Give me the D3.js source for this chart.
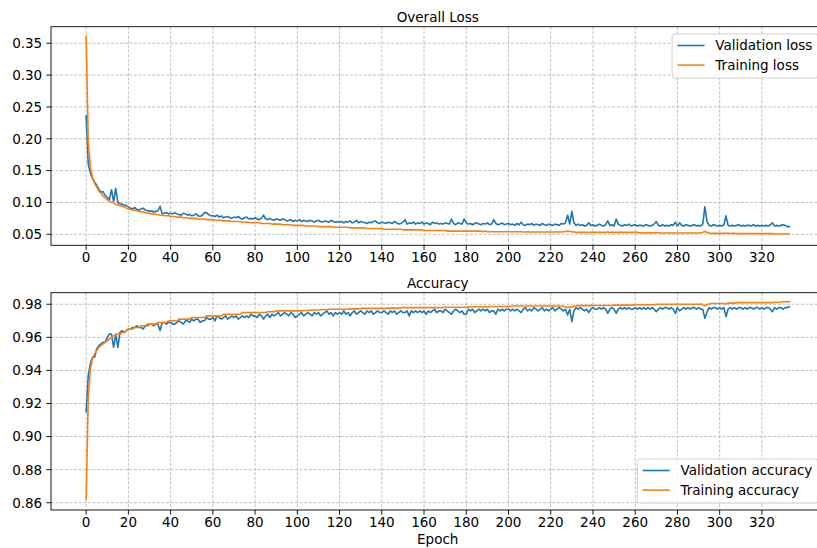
<!DOCTYPE html>
<html>
<head>
<meta charset="utf-8">
<script src="https://cdn.jsdelivr.net/npm/d3@7/dist/d3.min.js"></script>
<style>
  body { margin: 0; background: #fff; }
  text { font-family: "DejaVu Sans", sans-serif; font-size: 13.5px; fill: #000; }
</style>
</head>
<body>
<svg id="chart" width="817" height="548"></svg>
<script>
// validation loss per epoch (0..333)
const valLoss = [
  .236,.160,.146,.138,.132,.127,.121,.116,.117,.111,.108,.104,.120,.101,.122,.100,.098,.097,.096,.095,
  .093,.091,.090,.092,.089,.088,.090,.091,.088,.087,.086,.087,.085,.086,.087,.094,.082,.083,.084,.082,
  .083,.082,.084,.082,.081,.080,.083,.082,.080,.081,.079,.080,.082,.079,.078,.080,.084,.084,.081,.079,
  .079,.078,.080,.077,.079,.076,.077,.078,.076,.075,.077,.076,.078,.075,.074,.076,.077,.074,.075,.074,
  .076,.074,.073,.075,.080,.074,.073,.075,.073,.072,.074,.073,.072,.074,.073,.071,.072,.073,.070,.072,
  .071,.073,.070,.072,.071,.070,.072,.071,.069,.071,.072,.070,.069,.071,.070,.069,.072,.070,.069,.070,
  .069,.070,.068,.070,.069,.071,.068,.069,.072,.068,.070,.069,.068,.067,.069,.068,.070,.071,.068,.067,
  .069,.068,.067,.069,.068,.067,.070,.068,.066,.067,.069,.073,.066,.068,.067,.069,.066,.068,.067,.069,
  .066,.068,.067,.065,.069,.067,.068,.066,.067,.066,.068,.067,.066,.074,.067,.065,.068,.067,.066,.074,
  .068,.066,.067,.065,.067,.068,.066,.065,.067,.066,.068,.065,.066,.073,.067,.065,.066,.068,.065,.066,
  .067,.065,.066,.064,.067,.065,.069,.065,.064,.066,.065,.067,.064,.066,.065,.064,.067,.065,.064,.066,
  .065,.064,.066,.065,.064,.067,.066,.068,.080,.066,.086,.068,.064,.066,.064,.065,.063,.064,.068,.064,
  .065,.063,.064,.066,.064,.063,.065,.071,.064,.065,.063,.074,.066,.064,.063,.065,.064,.066,.063,.064,
  .065,.063,.064,.064,.063,.065,.064,.063,.064,.066,.070,.064,.063,.065,.063,.064,.063,.065,.064,.069,
  .063,.068,.064,.063,.065,.064,.063,.064,.065,.063,.064,.063,.066,.093,.070,.064,.063,.065,.064,.063,
  .064,.063,.065,.079,.064,.063,.064,.063,.064,.065,.063,.064,.063,.064,.064,.063,.065,.063,.064,.063,
  .064,.063,.064,.063,.065,.068,.063,.064,.063,.064,.065,.064,.062,.062
];

// training loss per epoch
const trainLoss = [
  .361,.195,.155,.140,.130,.124,.118,.114,.110,.107,.104,.102,.100,.099,.097,.096,.095,.094,.093,.091,
  .090,.089,.088,.088,.087,.086,.085,.085,.084,.083,.083,.082,.082,.081,.081,.080,.080,.079,.079,.079,
  .078,.078,.078,.077,.077,.077,.076,.076,.076,.075,.075,.075,.075,.074,.074,.074,.074,.073,.073,.073,
  .073,.072,.072,.072,.072,.071,.071,.071,.071,.070,.070,.070,.070,.070,.069,.069,.069,.069,.068,.068,
  .068,.068,.068,.067,.067,.067,.067,.067,.066,.066,.066,.066,.066,.065,.065,.065,.065,.065,.064,.064,
  .064,.064,.064,.064,.063,.063,.063,.063,.063,.063,.062,.062,.062,.062,.062,.062,.062,.061,.061,.061,
  .061,.061,.061,.061,.061,.060,.060,.060,.060,.060,.060,.060,.060,.059,.059,.059,.059,.059,.059,.059,
  .059,.058,.058,.058,.058,.058,.058,.058,.058,.058,.057,.057,.057,.057,.057,.057,.057,.057,.057,.057,
  .056,.056,.056,.056,.056,.056,.056,.056,.056,.056,.056,.055,.055,.055,.055,.055,.055,.055,.055,.055,
  .055,.055,.055,.055,.055,.055,.055,.055,.054,.055,.054,.054,.054,.054,.054,.054,.054,.054,.054,.054,
  .054,.054,.054,.054,.054,.054,.054,.0535,.0535,.054,.0535,.0535,.0535,.0535,.0535,.0535,.0535,.0535,.0535,.0535,
  .0535,.0535,.0535,.0535,.0535,.0535,.054,.0545,.055,.0545,.054,.0535,.053,.053,.053,.053,.053,.053,.053,.053,
  .053,.053,.053,.053,.053,.053,.053,.0535,.053,.053,.053,.053,.053,.053,.053,.053,.053,.053,.053,.053,
  .053,.053,.0525,.0525,.0525,.0525,.0525,.0525,.0525,.0525,.0525,.0525,.052,.052,.052,.052,.052,.052,.052,.052,
  .052,.052,.052,.052,.052,.052,.052,.052,.052,.052,.052,.0525,.053,.0545,.053,.052,.0515,.0515,.0515,.0515,
  .0515,.0515,.0515,.052,.0515,.0515,.0515,.0515,.051,.051,.051,.051,.051,.051,.051,.051,.051,.051,.051,.051,
  .051,.051,.051,.051,.051,.051,.0505,.0505,.0505,.0505,.0505,.0505,.0505,.0505
];

// validation accuracy per epoch
const valAcc = [
  .915,.937,.944,.948,.948,.953,.955,.956,.957,.957,.960,.962,.962,.954,.962,.954,.963,.964,.963,.964,
  .965,.965,.966,.966,.967,.966,.966,.965,.967,.967,.968,.968,.967,.968,.968,.964,.969,.969,.968,.969,
  .969,.968,.968,.969,.970,.969,.968,.970,.970,.969,.971,.970,.971,.971,.969,.970,.970,.972,.971,.971,
  .972,.970,.973,.972,.971,.972,.973,.971,.972,.973,.972,.973,.971,.972,.973,.972,.973,.972,.974,.973,
  .973,.972,.974,.973,.971,.973,.974,.972,.974,.973,.974,.975,.973,.974,.975,.974,.973,.975,.974,.972,
  .973,.974,.975,.973,.974,.975,.974,.973,.975,.974,.975,.973,.974,.975,.976,.974,.975,.973,.975,.974,
  .975,.974,.976,.974,.975,.973,.975,.976,.974,.975,.976,.975,.974,.976,.975,.976,.974,.975,.976,.975,
  .975,.976,.975,.974,.976,.975,.976,.974,.975,.976,.975,.975,.976,.973,.976,.975,.976,.975,.976,.975,
  .976,.974,.976,.975,.976,.977,.975,.976,.976,.975,.977,.976,.975,.974,.976,.977,.976,.975,.976,.974,
  .974,.977,.976,.977,.975,.976,.977,.976,.977,.976,.977,.975,.976,.976,.974,.977,.976,.977,.976,.977,
  .977,.976,.977,.976,.977,.976,.975,.977,.978,.976,.977,.976,.978,.977,.976,.977,.978,.976,.977,.976,
  .977,.978,.976,.977,.978,.977,.976,.977,.9735,.977,.9695,.976,.978,.977,.978,.977,.976,.977,.975,.977,
  .978,.977,.977,.978,.977,.978,.977,.9745,.977,.978,.977,.9745,.977,.978,.977,.978,.977,.978,.977,.977,
  .978,.977,.978,.977,.978,.977,.978,.977,.978,.977,.9755,.977,.978,.977,.978,.978,.977,.978,.977,.9745,
  .978,.976,.977,.978,.977,.978,.977,.978,.978,.977,.978,.977,.977,.9715,.975,.978,.977,.978,.978,.977,
  .978,.977,.978,.9725,.977,.978,.977,.978,.977,.978,.978,.977,.978,.977,.978,.978,.977,.978,.978,.977,
  .978,.977,.978,.978,.977,.9755,.978,.977,.978,.978,.977,.978,.978,.9785
];

// training accuracy per epoch
const trainAcc = [
  .862,.924,.941,.947,.950,.952,.954,.955,.956,.957,.958,.959,.960,.961,.961,.962,.962,.963,.963,.964,
  .965,.965,.965,.966,.966,.966,.967,.967,.967,.968,.968,.968,.968,.968,.969,.969,.969,.969,.969,.970,
  .970,.970,.970,.970,.971,.971,.971,.971,.971,.971,.972,.972,.972,.972,.972,.972,.972,.973,.973,.973,
  .973,.973,.973,.973,.973,.974,.974,.974,.974,.974,.974,.974,.974,.974,.975,.975,.975,.975,.975,.975,
  .975,.975,.975,.975,.975,.975,.9755,.9755,.9755,.9755,.976,.976,.976,.976,.976,.976,.976,.976,.976,.976,
  .976,.976,.976,.9762,.9762,.9762,.9765,.9765,.9765,.9765,.9765,.9767,.9767,.9767,.9767,.977,.977,.977,.977,.977,
  .977,.977,.977,.977,.977,.9772,.9772,.9772,.9772,.9772,.9775,.9775,.9775,.9775,.9775,.9775,.9775,.9775,.9775,.9775,
  .9775,.9775,.9775,.9777,.9777,.9777,.9777,.9777,.9777,.9777,.978,.978,.978,.978,.978,.978,.978,.978,.978,.978,
  .978,.978,.978,.978,.978,.978,.978,.978,.978,.978,.9782,.9782,.9782,.9782,.9782,.9782,.9782,.9782,.9782,.9782,
  .9783,.9783,.9785,.9785,.9785,.9785,.9785,.9785,.9785,.9785,.9785,.9785,.9787,.9787,.9787,.9787,.9787,.9787,.9787,.9787,
  .9788,.9788,.979,.979,.979,.979,.979,.979,.979,.979,.979,.979,.979,.979,.979,.979,.979,.979,.979,.979,
  .979,.979,.979,.979,.979,.979,.9788,.9785,.978,.9785,.9783,.9788,.979,.9792,.9792,.9792,.9792,.9792,.9792,.9792,
  .9793,.9793,.9793,.9793,.9793,.9793,.9793,.9793,.9793,.9793,.9795,.9795,.9795,.9795,.9795,.9795,.9795,.9795,.9795,.9795,
  .9797,.9797,.9797,.9797,.9797,.9797,.9797,.9797,.9797,.9797,.98,.98,.98,.98,.98,.98,.98,.98,.98,.98,
  .98,.98,.98,.98,.98,.98,.98,.98,.98,.98,.98,.9802,.9798,.979,.9798,.9802,.9805,.9805,.9805,.9805,
  .9805,.9805,.9805,.9802,.9807,.9807,.9807,.9807,.981,.981,.981,.981,.981,.981,.981,.981,.981,.981,.981,.981,
  .981,.981,.981,.981,.981,.981,.9812,.9812,.9812,.9812,.9815,.9815,.9815,.9815
];

const epochTicks = d3.range(0, 321, 20);
const lossTicks = [0.05, 0.10, 0.15, 0.20, 0.25, 0.30, 0.35];
const accTicks = [0.86, 0.88, 0.90, 0.92, 0.94, 0.96, 0.98];

const blue = '#1f77b4';
const orange = '#ff7f0e';

const svg = d3.select('#chart');

// the figure is cropped on the right, so the right spine falls outside
const x = d3.scaleLinear().domain([-16.65, 349.65]).range([51, 824.5]);

function drawPanel(opts) {
    const y = d3.scaleLinear().domain(opts.yDomain).range([opts.bottom, opts.top]);
    const g = svg.append('g');
    const left = x.range()[0], right = x.range()[1];

    // grid
    const grid = g.append('g')
        .attr('stroke', '#b0b0b0')
        .attr('stroke-width', 0.8)
        .attr('stroke-dasharray', '3,1.6');
    grid.selectAll('.gx').data(epochTicks).enter().append('line')
        .attr('x1', d => x(d)).attr('x2', d => x(d))
        .attr('y1', opts.top).attr('y2', opts.bottom);
    grid.selectAll('.gy').data(opts.yTicks).enter().append('line')
        .attr('x1', left).attr('x2', right)
        .attr('y1', d => y(d)).attr('y2', d => y(d));

    // lines
    const line = d3.line().x((d, i) => x(i)).y(d => y(d));
    opts.series.forEach(s => {
        g.append('path')
            .datum(s.values)
            .attr('fill', 'none')
            .attr('stroke', s.color)
            .attr('stroke-width', 1.6)
            .attr('stroke-linejoin', 'round')
            .attr('stroke-linecap', 'square')
            .attr('d', line);
    });

    // spines
    g.append('rect')
        .attr('x', left).attr('y', opts.top)
        .attr('width', right - left).attr('height', opts.bottom - opts.top)
        .attr('fill', 'none').attr('stroke', '#000').attr('stroke-width', 0.9);

    // x ticks
    g.selectAll('.xt').data(epochTicks).enter().append('line')
        .attr('x1', d => x(d)).attr('x2', d => x(d))
        .attr('y1', opts.bottom).attr('y2', opts.bottom + 4.7)
        .attr('stroke', '#000').attr('stroke-width', 0.9);
    g.selectAll('.xl').data(epochTicks).enter().append('text')
        .attr('x', d => x(d)).attr('y', opts.bottom + 16.6)
        .attr('text-anchor', 'middle')
        .text(d => d);

    // y ticks
    g.selectAll('.yt').data(opts.yTicks).enter().append('line')
        .attr('x1', left - 4.7).attr('x2', left)
        .attr('y1', d => y(d)).attr('y2', d => y(d))
        .attr('stroke', '#000').attr('stroke-width', 0.9);
    g.selectAll('.yl').data(opts.yTicks).enter().append('text')
        .attr('x', left - 8.8).attr('y', d => y(d))
        .attr('dy', '0.36em')
        .attr('text-anchor', 'end')
        .text(d => d3.format('.2f')(d));

    // title
    g.append('text')
        .attr('x', (left + right) / 2).attr('y', opts.top - 5)
        .attr('text-anchor', 'middle')
        .text(opts.title);

    // legend
    const lg = g.append('g');
    const labels = lg.selectAll('text').data(opts.series).enter().append('text')
        .attr('y', (d, i) => opts.legendTop + 11.5 + i * 19.6)
        .attr('dy', '0.35em')
        .text(d => d.name);
    let textW = 0;
    labels.each(function () { textW = Math.max(textW, this.getComputedTextLength()); });
    const boxRight = right - 6.75;
    const boxW = 5.4 + 27 + 10.8 + textW + 5.4;
    const boxLeft = boxRight - boxW;
    const boxH = 44;
    lg.insert('rect', 'text')
        .attr('x', boxLeft).attr('y', opts.legendTop)
        .attr('width', boxW).attr('height', boxH)
        .attr('rx', 2.7)
        .attr('fill', '#fff').attr('fill-opacity', 0.8)
        .attr('stroke', '#cccccc').attr('stroke-width', 0.9);
    labels.attr('x', boxLeft + 5.4 + 27 + 10.8);
    lg.selectAll('line').data(opts.series).enter().append('line')
        .attr('x1', boxLeft + 5.4).attr('x2', boxLeft + 5.4 + 27)
        .attr('y1', (d, i) => opts.legendTop + 11.5 + i * 19.6)
        .attr('y2', (d, i) => opts.legendTop + 11.5 + i * 19.6)
        .attr('stroke', d => d.color).attr('stroke-width', 1.6);
}

drawPanel({
    title: 'Overall Loss',
    top: 26.7, bottom: 245.3,
    yDomain: [0.0327, 0.3760],
    yTicks: lossTicks,
    legendTop: 34,
    series: [
        { name: 'Validation loss', values: valLoss, color: blue },
        { name: 'Training loss', values: trainLoss, color: orange }
    ]
});

drawPanel({
    title: 'Accuracy',
    top: 292.7, bottom: 510,
    yDomain: [0.8556, 0.9870],
    yTicks: accTicks,
    legendTop: 459,
    series: [
        { name: 'Validation accuracy', values: valAcc, color: blue },
        { name: 'Training accuracy', values: trainAcc, color: orange }
    ]
});

svg.append('text')
    .attr('x', (x.range()[0] + x.range()[1]) / 2)
    .attr('y', 544)
    .attr('text-anchor', 'middle')
    .text('Epoch');
</script>
</body>
</html>
